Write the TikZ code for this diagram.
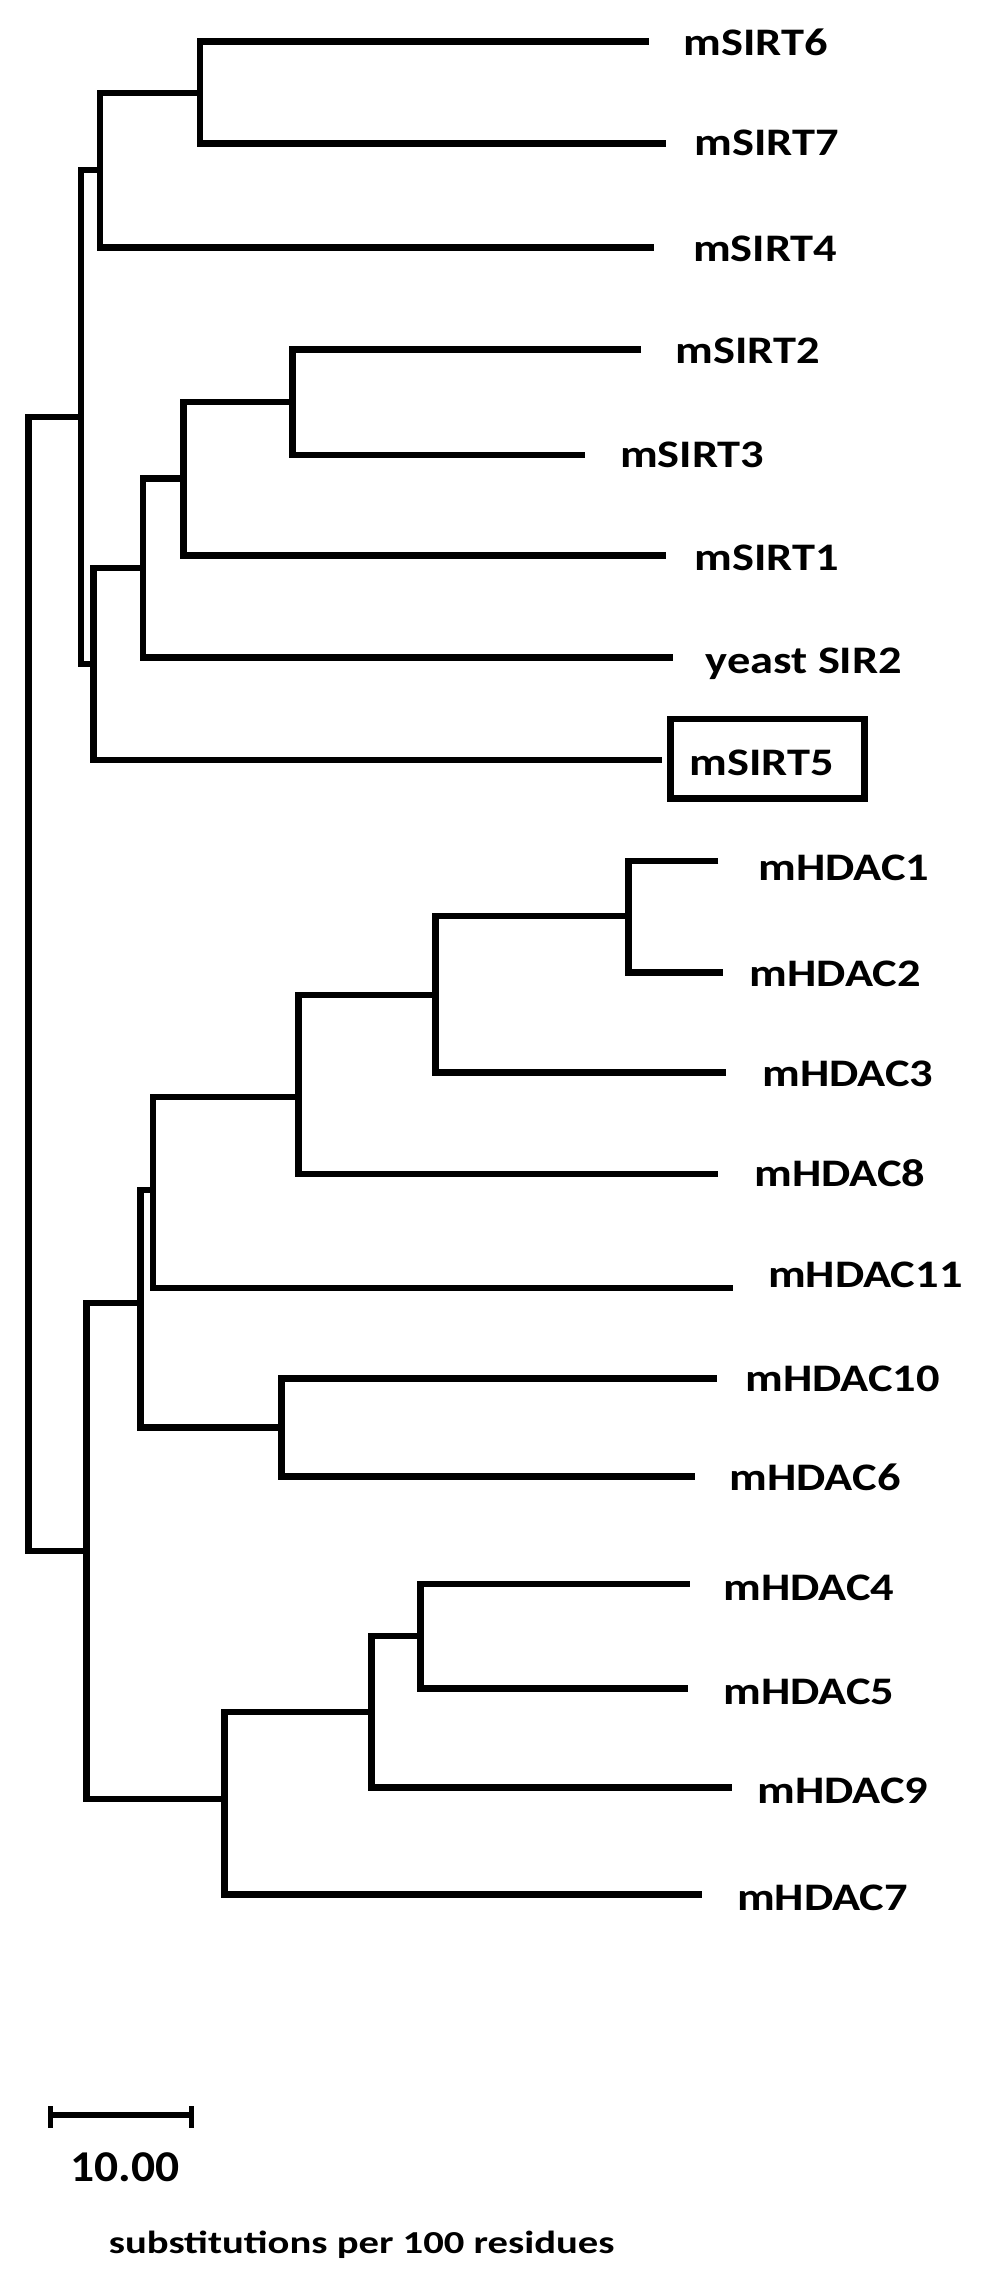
\documentclass[tikz,border=0pt]{standalone}
\usepackage{fontspec}
\setmainfont{Carlito}
\usepackage{graphicx}
\newcommand{\lbl}[1]{\scalebox{1.19}[1]{#1}}
\begin{document}
\begin{tikzpicture}[x=1pt,y=-1pt,
  br/.style={line width=6.5pt, line join=miter, line cap=butt},
  lab/.style={anchor=base west, inner sep=0pt, font=\bfseries\fontsize{39}{39}\selectfont},
  boxed/.style={draw, line width=6.5pt, minimum width=194pt, minimum height=79.5pt, inner sep=0pt}]
\useasboundingbox (0,0) rectangle (992,2287);
% leaf tips
\coordinate (t6) at (648.5,41.7);
\coordinate (t7) at (666.2,143.3);
\coordinate (t4) at (653.6,247.3);
\coordinate (t2) at (641,349.3);
\coordinate (t3) at (585.2,455);
\coordinate (t1) at (665.6,555.7);
\coordinate (ty) at (672.6,657.3);
\coordinate (t5) at (661.7,760);
\coordinate (h1) at (718.3,861);
\coordinate (h2) at (723.2,972.3);
\coordinate (h3) at (725.7,1072.3);
\coordinate (h8) at (718,1174);
\coordinate (h11t) at (733,1288);
\coordinate (h10) at (716.5,1378.3);
\coordinate (h6) at (695,1476.7);
\coordinate (h4) at (689.6,1584);
\coordinate (h5) at (688.4,1688.3);
\coordinate (h9) at (732,1787.7);
\coordinate (h7) at (702.3,1894.3);
% internal nodes
\coordinate (n67) at (200,93);
\coordinate (n674) at (100,170);
\coordinate (n23) at (292.3,402);
\coordinate (n231) at (183.5,478.5);
\coordinate (nY) at (143,568);
\coordinate (n5) at (93.6,664);
\coordinate (nS) at (81,417);
\coordinate (g12) at (628.5,916);
\coordinate (g123) at (435.3,995);
\coordinate (g1238) at (298.6,1097);
\coordinate (g11) at (153.1,1190);
\coordinate (g106) at (281.5,1427.5);
\coordinate (gA) at (140.5,1303);
\coordinate (g45) at (420.7,1636);
\coordinate (g459) at (371.4,1712);
\coordinate (g4597) at (224.6,1799);
\coordinate (nH) at (86.5,1551);
\coordinate (root) at (28.5,984);
% branches
\draw[br] (t6) -- (n67 |- t6) -- (n67 |- t7) -- (t7);
\draw[br] (n67) -- (n674 |- n67) -- (n674 |- t4) -- (t4);
\draw[br] (t2) -- (n23 |- t2) -- (n23 |- t3) -- (t3);
\draw[br] (n23) -- (n231 |- n23) -- (n231 |- t1) -- (t1);
\draw[br] (n231) -- (nY |- n231) -- (nY |- ty) -- (ty);
\draw[br] (nY) -- (n5 |- nY) -- (n5 |- t5) -- (t5);
\draw[br] (n674) -- (nS |- n674) -- (nS |- n5) -- (n5);
\draw[br] (h1) -- (g12 |- h1) -- (g12 |- h2) -- (h2);
\draw[br] (g12) -- (g123 |- g12) -- (g123 |- h3) -- (h3);
\draw[br] (g123) -- (g1238 |- g123) -- (g1238 |- h8) -- (h8);
\draw[br] (g1238) -- (g11 |- g1238) -- (g11 |- h11t) -- (h11t);
\draw[br] (h10) -- (g106 |- h10) -- (g106 |- h6) -- (h6);
\draw[br] (g11) -- (gA |- g11) -- (gA |- g106) -- (g106);
\draw[br] (h4) -- (g45 |- h4) -- (g45 |- h5) -- (h5);
\draw[br] (g45) -- (g459 |- g45) -- (g459 |- h9) -- (h9);
\draw[br] (g459) -- (g4597 |- g459) -- (g4597 |- h7) -- (h7);
\draw[br] (gA) -- (nH |- gA) -- (nH |- g4597) -- (g4597);
\draw[br] (nS) -- (root |- nS) -- (root |- nH) -- (nH);
% labels
\node[lab] (L6) at (683.3,55) {\lbl{mSIRT6}};
\node[lab] (L7) at (694.7,155) {\lbl{mSIRT7}};
\node[lab] (L4) at (692.8,261.7) {\lbl{mSIRT4}};
\node[lab] (L2) at (675.7,363.3) {\lbl{mSIRT2}};
\node[lab] (L3) at (620,467.3) {\lbl{mSIRT3}};
\node[lab] (L1) at (694.7,570) {\lbl{mSIRT1}};
\node[lab] (LY) at (705.5,673.3) {\lbl{yeast SIR2}};
\node[lab] (L5) at (689.3,775) {\lbl{mSIRT5}};
\node[boxed] (B5) at (767.5,758.75) {};
\node[lab] (M1) at (758.3,880) {\lbl{mHDAC1}};
\node[lab] (M2) at (749.7,986.7) {\lbl{mHDAC2}};
\node[lab] (M3) at (762.4,1086) {\lbl{mHDAC3}};
\node[lab] (M8) at (754.2,1186.7) {\lbl{mHDAC8}};
\node[lab] (M11) at (768,1287) {\lbl{mHDAC11}};
\node[lab] (M10) at (745.3,1391.7) {\lbl{mHDAC10}};
\node[lab] (M6) at (729.5,1490) {\lbl{mHDAC6}};
\node[lab] (M4) at (723.2,1600) {\lbl{mHDAC4}};
\node[lab] (M5) at (723.2,1704.3) {\lbl{mHDAC5}};
\node[lab] (M9) at (757.3,1803.3) {\lbl{mHDAC9}};
\node[lab] (M7) at (737,1910) {\lbl{mHDAC7}};
% scale bar
\coordinate (s1) at (50,2115);
\coordinate (s2) at (191.5,2115);
\draw[br] (s1) -- (s2);
\draw[line width=5pt] (s1) ++(0,-9) -- ++(0,21.5);
\draw[line width=5pt] (s2) ++(0,-9) -- ++(0,21.5);
\node[anchor=base west, inner sep=0pt, font=\bfseries\fontsize{44}{44}\selectfont] (sv) at (70.5,2181.7) {\scalebox{1.08}[1]{10.00}};
\node[anchor=base west, inner sep=0pt, font=\bfseries\fontsize{32}{32}\selectfont] (su) at (108.6,2253) {\scalebox{1.27}[1]{substitutions per 100 residues}};
\end{tikzpicture}
\end{document}
